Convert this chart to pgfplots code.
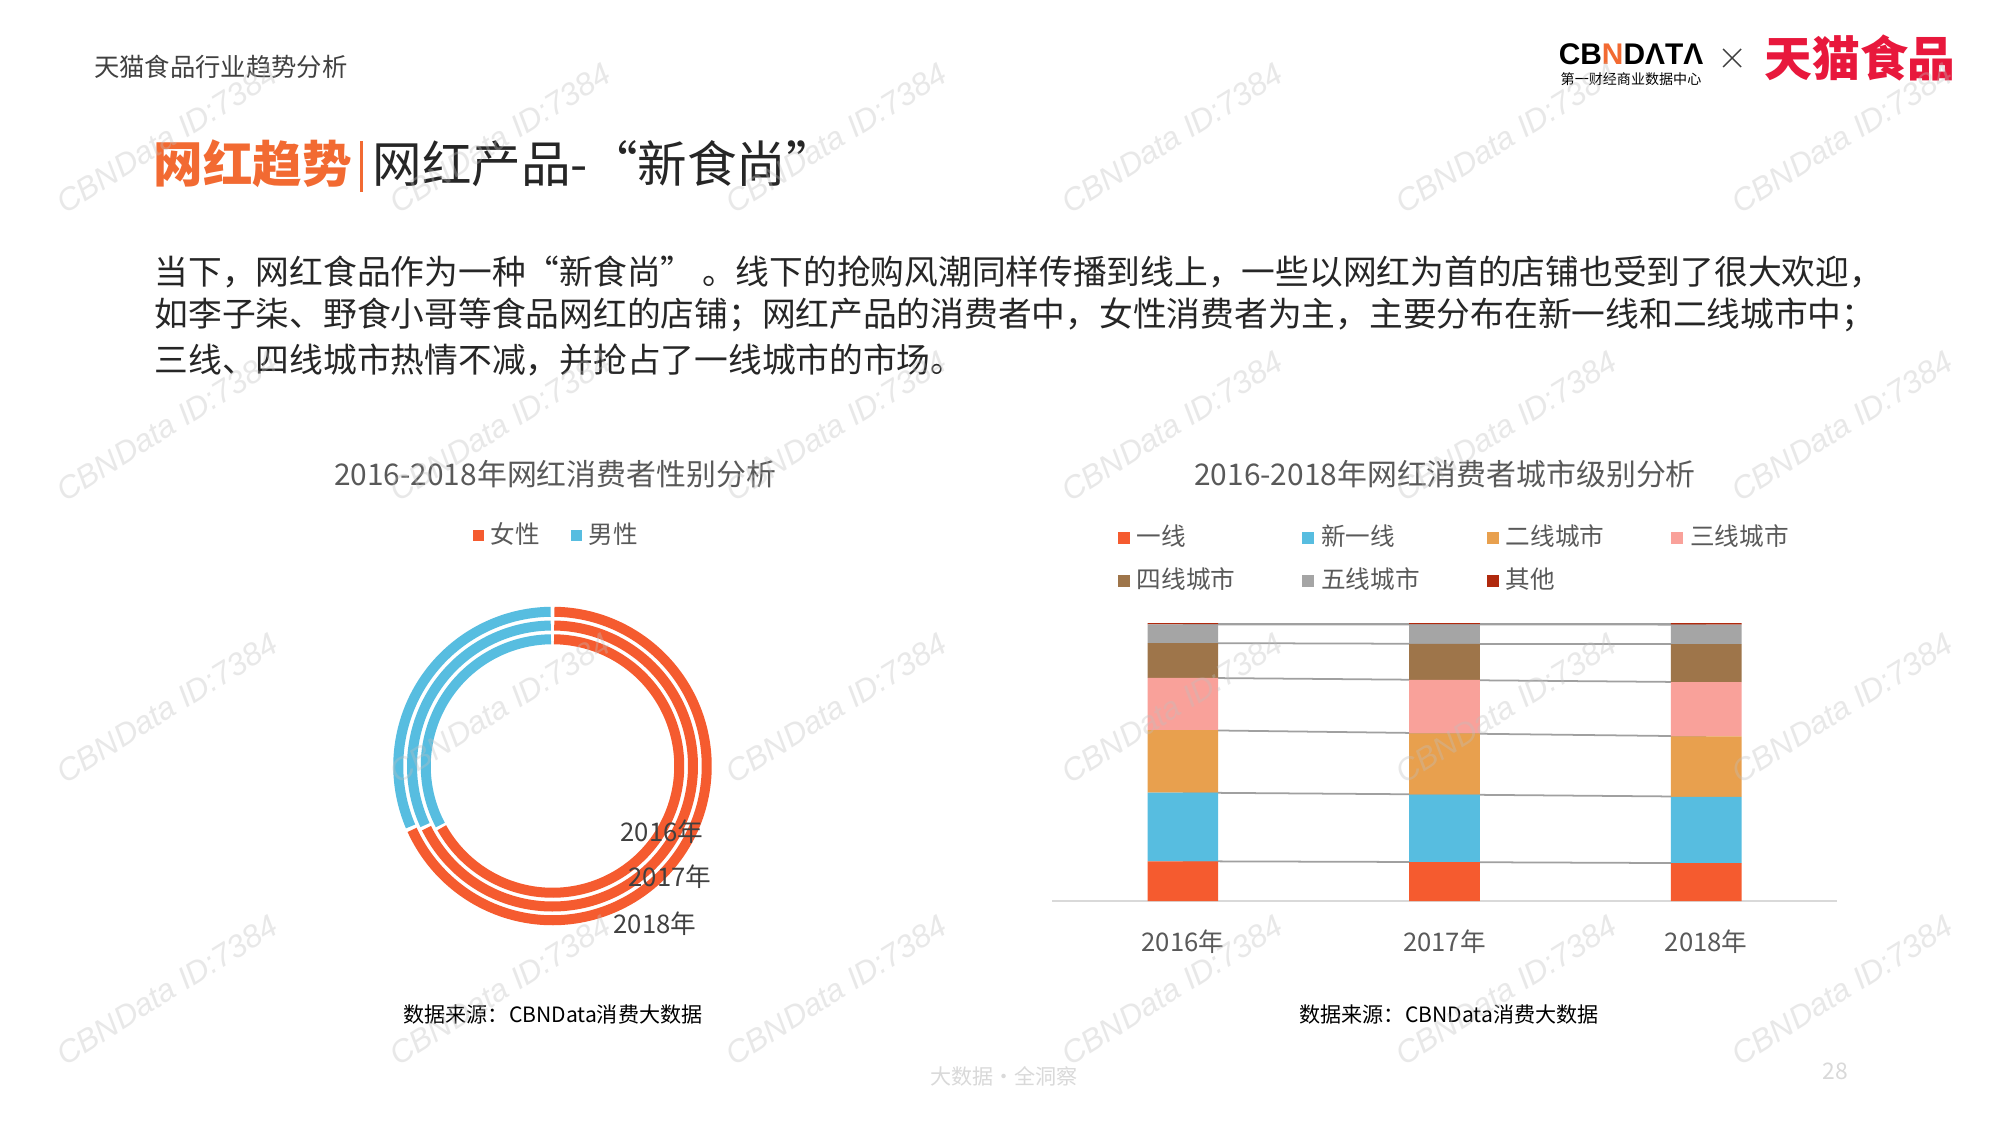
\documentclass[border=0pt]{standalone}
\usepackage{fontspec}
\setmainfont{Noto Sans CJK SC}
\newfontfamily\latinfont{Liberation Sans}
\usepackage{pgfplots}
\usepackage{pgfplotstable}
\pgfplotsset{compat=1.18}

\definecolor{cfem}{HTML}{F55B2F}
\definecolor{cmale}{HTML}{57BDE0}
\definecolor{cyi}{HTML}{F55B2F}
\definecolor{cxin}{HTML}{57BDE0}
\definecolor{cer}{HTML}{E8A04E}
\definecolor{csan}{HTML}{F9A19A}
\definecolor{csi}{HTML}{9E754A}
\definecolor{cwu}{HTML}{A5A5A5}
\definecolor{cqi}{HTML}{B0290D}
\definecolor{ctitle}{HTML}{F26A32}
\definecolor{ctext}{HTML}{262626}
\definecolor{cgray}{HTML}{595959}
\definecolor{cdark}{HTML}{404040}
\definecolor{caxis}{HTML}{D9D9D9}
\definecolor{cser}{HTML}{A0A0A0}
\definecolor{cred}{HTML}{E8183C}

\newcommand\fs[1]{\fontsize{#1pt}{1.2\dimexpr#1pt\relax}\selectfont}

% city tier shares (%), x = 0,1,2 for 2016..2018
\pgfplotstableread{
x yixian xinyixian erxian sanxian sixian wuxian qita
0 14.3 24.7 22.5 18.8 12.5 6.7 0.5
1 14.0 24.3 22.0 19.2 13.0 7.0 0.5
2 13.6 23.9 21.7 19.5 13.7 7.0 0.6
}\citytable

% gender shares (%)
\pgfplotstableread{
year female male
2016 67.1 32.9
2017 67.9 32.1
2018 68.4 31.6
}\gendertable

\begin{document}
\begin{tikzpicture}[x=1cm,y=1cm]
\path[use as bounding box, fill=white] (0,0) rectangle (20,11.25);

% arc end angles from the gender table (female clockwise from top, male counter-clockwise)
\pgfplotstablegetelem{0}{female}\of\gendertable\pgfmathsetmacro\fA{90-3.6*\pgfplotsretval+0.7}
\pgfplotstablegetelem{0}{male}\of\gendertable\pgfmathsetmacro\mA{90+3.6*\pgfplotsretval-0.7}
\pgfplotstablegetelem{1}{female}\of\gendertable\pgfmathsetmacro\fB{90-3.6*\pgfplotsretval+0.7}
\pgfplotstablegetelem{1}{male}\of\gendertable\pgfmathsetmacro\mB{90+3.6*\pgfplotsretval-0.7}
\pgfplotstablegetelem{2}{female}\of\gendertable\pgfmathsetmacro\fC{90-3.6*\pgfplotsretval+0.7}
\pgfplotstablegetelem{2}{male}\of\gendertable\pgfmathsetmacro\mC{90+3.6*\pgfplotsretval-0.7}

% header and logos
\node[anchor=west, inner sep=0, text=cdark, font=\fs{7.2}] at (0.936,10.58) {天猫食品行业趋势分析};
\node[inner sep=0, font=\latinfont\bfseries\fs{8.5}] at (16.31,10.71) {CB\textcolor{ctitle}{N}DΛTΛ};
\node[inner sep=0, font=\fs{4}] at (16.31,10.455) {第一财经商业数据中心};
\draw[cdark, line width=0.4pt] (17.23,10.76) -- (17.41,10.58) (17.23,10.58) -- (17.41,10.76);
\node[inner sep=0, font=\bfseries\fs{13.6}, text=cred] at (18.60,10.67) {天猫食品};

% title
\node[anchor=west, inner sep=0, font=\bfseries\fs{14.1}, text=ctitle] at (1.53,9.61) {网红趋势};
\fill[ctitle] (3.60,9.33) rectangle (3.63,9.84);
\node[anchor=west, inner sep=0, font=\fs{14.1}, text=ctext] at (3.72,9.61) {网红产品-“新食尚”};

% paragraph
\node[anchor=west, inner sep=0, font=\fs{9.6}, text=ctext] at (1.54,8.53) {当下，网红食品作为一种“新食尚” 。线下的抢购风潮同样传播到线上，一些以网红为首的店铺也受到了很大欢迎，};
\node[anchor=west, inner sep=0, font=\fs{9.6}, text=ctext] at (1.54,8.10) {如李子柒、野食小哥等食品网红的店铺；网红产品的消费者中，女性消费者为主，主要分布在新一线和二线城市中；};
\node[anchor=west, inner sep=0, font=\fs{9.6}, text=ctext] at (1.54,7.65) {三线、四线城市热情不减，并抢占了一线城市的市场。};

% chart titles
\node[font=\fs{8.5}, text=cgray] at (5.55,6.51) {2016-2018年网红消费者性别分析};
\node[font=\fs{8.5}, text=cgray] at (14.45,6.51) {2016-2018年网红消费者城市级别分析};

% donut: inner ring 2016, middle 2017, outer 2018
\begin{axis}[
  at={(5.525cm,3.59cm)}, anchor=center,
  width=3.2cm, height=3.2cm, scale only axis,
  xmin=-160, xmax=160, ymin=-160, ymax=160,
  hide axis, clip=false,
  legend style={draw=none, fill=none, at={(0.52,1.219)}, anchor=center,
    legend columns=2, font=\fs{7}, text=cgray, inner sep=0pt,
    /tikz/every even column/.append style={column sep=0.24cm}},
  legend image code/.code={\fill[#1] (0cm,-0.055cm) rectangle (0.11cm,0.055cm);},
]
\addlegendimage{fill=cfem, draw=none}
\addlegendentry{女性}
\addlegendimage{fill=cmale, draw=none}
\addlegendentry{男性}
\addplot[draw=cfem, line width=0.1cm, domain=\fA:89.3, samples=150] ({126.75*cos(x)},{126.75*sin(x)});
\addplot[draw=cmale, line width=0.1cm, domain=90.7:\mA, samples=80] ({126.75*cos(x)},{126.75*sin(x)});
\addplot[draw=cfem, line width=0.1cm, domain=\fB:89.3, samples=150] ({140.5*cos(x)},{140.5*sin(x)});
\addplot[draw=cmale, line width=0.1cm, domain=90.7:\mB, samples=80] ({140.5*cos(x)},{140.5*sin(x)});
\addplot[draw=cfem, line width=0.1cm, domain=\fC:89.3, samples=150] ({154.25*cos(x)},{154.25*sin(x)});
\addplot[draw=cmale, line width=0.1cm, domain=90.7:\mC, samples=80] ({154.25*cos(x)},{154.25*sin(x)});
\end{axis}

\node[font=\fs{7.3}, text=cdark] at (6.62,2.93) {2016年};
\node[font=\fs{7.3}, text=cdark] at (6.70,2.48) {2017年};
\node[font=\fs{7.3}, text=cdark] at (6.55,2.01) {2018年};

% series lines between the stacked bars
\begin{axis}[
  at={(10.52cm,2.24cm)}, anchor=south west,
  width=7.85cm, height=2.78cm, scale only axis,
  xmin=-0.5, xmax=2.5, ymin=0, ymax=100,
  hide axis, stack plots=y,
]
\addplot[cser, line width=0.5pt] table[x=x,y=yixian]{\citytable};
\addplot[cser, line width=0.5pt] table[x=x,y=xinyixian]{\citytable};
\addplot[cser, line width=0.5pt] table[x=x,y=erxian]{\citytable};
\addplot[cser, line width=0.5pt] table[x=x,y=sanxian]{\citytable};
\addplot[cser, line width=0.5pt] table[x=x,y=sixian]{\citytable};
\addplot[cser, line width=0.5pt] table[x=x,y=wuxian]{\citytable};
\addplot[cser, line width=0.5pt] table[x=x,y=qita]{\citytable};
\end{axis}

\begin{axis}[
  at={(10.52cm,2.24cm)}, anchor=south west,
  width=7.85cm, height=2.78cm, scale only axis,
  ybar stacked, bar width=0.27,
  xmin=-0.5, xmax=2.5, ymin=0, ymax=100,
  axis x line=bottom, axis y line=none,
  x axis line style={draw=caxis, line width=0.6pt, -},
  xtick={0,1,2}, xticklabels={2016年,2017年,2018年},
  major tick length=0pt, xtick style={draw=none}, ytick=\empty,
  xticklabel style={font=\fs{7.3}, text=cgray, anchor=center, yshift=-0.41cm},
  legend style={draw=none, fill=none, at={(0.083,1.229)}, anchor=west,
    legend columns=4, font=\fs{7}, text=cgray, inner sep=0pt, row sep=0.03cm,
    /tikz/every even column/.append style={column sep=0.6cm}},
  legend cell align=left,
  legend image code/.code={\fill[#1] (0cm,-0.06cm) rectangle (0.12cm,0.06cm);},
]
\addplot[fill=cyi, draw=none] table[x=x,y=yixian]{\citytable};
\addplot[fill=cxin, draw=none] table[x=x,y=xinyixian]{\citytable};
\addplot[fill=cer, draw=none] table[x=x,y=erxian]{\citytable};
\addplot[fill=csan, draw=none] table[x=x,y=sanxian]{\citytable};
\addplot[fill=csi, draw=none] table[x=x,y=sixian]{\citytable};
\addplot[fill=cwu, draw=none] table[x=x,y=wuxian]{\citytable};
\addplot[fill=cqi, draw=none] table[x=x,y=qita]{\citytable};
\legend{一线,新一线,二线城市,三线城市,四线城市,五线城市,其他}
\end{axis}

% sources and footer
\node[font=\fs{6}, text=black] at (5.53,1.10) {数据来源：CBNData消费大数据};
\node[font=\fs{6}, text=black] at (14.49,1.10) {数据来源：CBNData消费大数据};
\node[font=\fs{6}, text=black!15] at (10.04,0.49) {大数据·全洞察};
\node[font=\fs{6.5}, text=black!15] at (18.35,0.54) {28};

% watermarks
\foreach \x in {1.67,5.00,8.36,11.72,15.06,18.42}{
  \foreach \y in {9.87,6.99,4.17,1.35}{
    \node[rotate=32, font=\latinfont\itshape\fs{9}, text=black!25, opacity=0.35] at (\x,\y) {CBNData ID:7384};
  }
}
\end{tikzpicture}
\end{document}
